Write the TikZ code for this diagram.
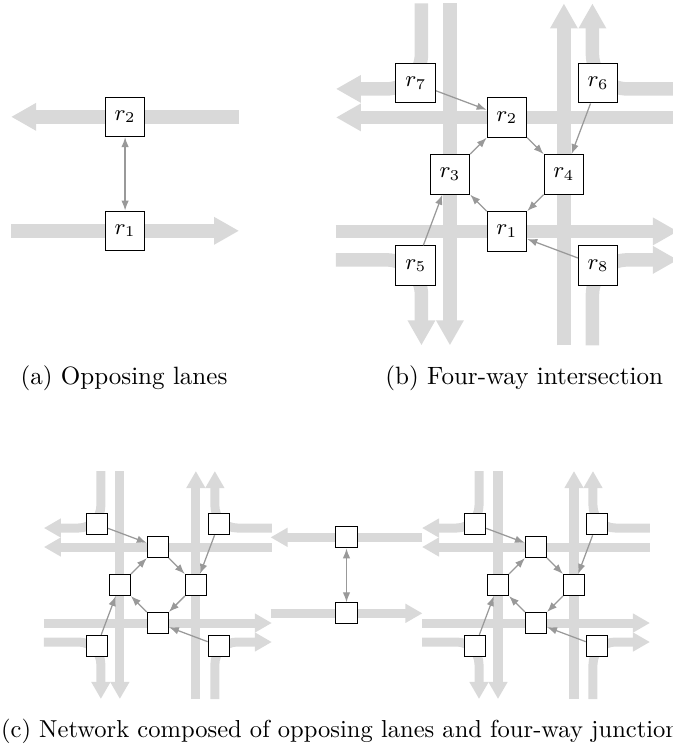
\documentclass[tikz,border=0pt]{standalone}
\usetikzlibrary{arrows.meta}

\tikzset{
  lane/.style={draw=black!15, line width=5.4pt, rounded corners=14pt,
    -{Triangle[length=10pt,width=10.4pt]}},
  thinlane/.style={draw=black!15, line width=3.6pt, rounded corners=9pt,
    -{Triangle[length=6.8pt,width=7.2pt]}},
  agent/.style={draw, fill=white, minimum size=15.8pt, inner sep=0pt, font=\small},
  smallagent/.style={draw, fill=white, minimum size=8.4pt, inner sep=0pt},
  link/.style={black!40, line width=0.5pt, -{Latex[length=4pt,width=3pt]}},
  twoway/.style={link, {Latex[length=4pt,width=3pt]}-{Latex[length=4pt,width=3pt]}},
  caption/.style={inner sep=0pt},
}

% two lanes in opposite directions: #1 prefix, #2 centre, #3 scale,
% #4 lane style, #5 box style, #6 box text
\newcommand{\opposing}[6]{%
  \begin{scope}[shift={#2}, scale=#3]
    \draw[#4] (4,2) -- (-4,2);
    \draw[#4] (-4,-2) -- (4,-2);
    \foreach \i/\x/\y in {1/0/-2, 2/0/2}
      \node[#5] (#1-\i) at (\x,\y) {#6};
  \end{scope}
  \draw[twoway] (#1-1) -- (#1-2);
}

% four-way intersection, same arguments
\newcommand{\crossing}[6]{%
  \begin{scope}[shift={#2}, scale=#3]
    % straight lanes
    \draw[#4] (-2,6) -- (-2,-6);
    \draw[#4] (2,-6) -- (2,6);
    \draw[#4] (6,2) -- (-6,2);
    \draw[#4] (-6,-2) -- (6,-2);
    % right turns
    \draw[#4] (-3,6) |- (-6,3);
    \draw[#4] (6,3) -| (3,6);
    \draw[#4] (-6,-3) -| (-3,-6);
    \draw[#4] (3,-6) |- (6,-3);
    \foreach \i/\x/\y in {1/0/-2, 2/0/2, 3/-2/0, 4/2/0,
                          5/-3.2/-3.2, 6/3.2/3.2, 7/-3.2/3.2, 8/3.2/-3.2}
      \node[#5] (#1-\i) at (\x,\y) {#6};
  \end{scope}
  \path[link]
    (#1-7) edge (#1-2)
    (#1-6) edge (#1-4)
    (#1-5) edge (#1-3)
    (#1-8) edge (#1-1)
    (#1-1) edge (#1-3)
    (#1-3) edge (#1-2)
    (#1-2) edge (#1-4)
    (#1-4) edge (#1-1);
}

\begin{document}
\begin{tikzpicture}[x=0.4cm, y=0.4cm]
  \useasboundingbox (0,0) rectangle (23.61,-26.32);
  \clip (0,0) rectangle (23.61,-26.32);

  \opposing{a}{(4.39,-6.1)}{1}{lane}{agent}{$r_\i$}
  \crossing{b}{(17.79,-6.12)}{1}{lane}{agent}{$r_\i$}

  \crossing{l}{(5.54,-20.53)}{2/3}{thinlane}{smallagent}{}
  \opposing{m}{(12.16,-20.19)}{2/3}{thinlane}{smallagent}{}
  \crossing{r}{(18.81,-20.53)}{2/3}{thinlane}{smallagent}{}

  \node[caption, anchor=base] (capa) at (4.35,-13.48) {(a) Opposing lanes};
  \node[caption, anchor=base west] (capb) at (13.51,-13.48) {(b) Four-way intersection};
  \node[caption, anchor=base west, font=\fontsize{9.8pt}{12pt}\selectfont] (capc) at (0.02,-25.88)
    {(c) Network composed of opposing lanes and four-way junction};
\end{tikzpicture}
\end{document}
